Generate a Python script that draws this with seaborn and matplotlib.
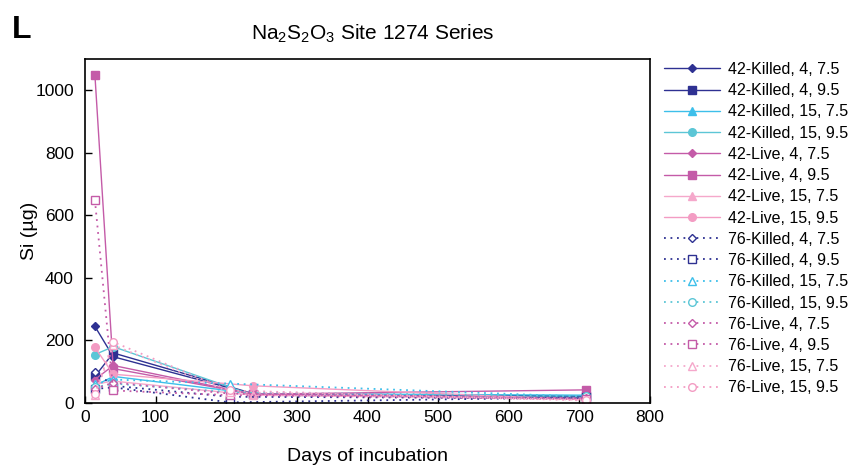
import matplotlib
matplotlib.use("Agg")
import matplotlib.pyplot as plt
import seaborn as sns
import pandas as pd
import numpy as np

sns.set_theme(style="white")
plt.rcParams['font.family'] = ['Liberation Sans', 'DejaVu Sans']
plt.rcParams['mathtext.fontset'] = 'custom'
plt.rcParams['mathtext.rm'] = 'Liberation Sans'
plt.rcParams['mathtext.it'] = 'Liberation Sans:italic'
plt.rcParams['mathtext.bf'] = 'Liberation Sans:bold'
plt.rcParams['text.color'] = 'black'
plt.rcParams['axes.labelcolor'] = 'black'
plt.rcParams['xtick.color'] = 'black'
plt.rcParams['ytick.color'] = 'black'

# ---- data ----
days_42 = [14, 40, 238, 710]
days_76 = [14, 40, 205, 710]

series_names = [
    "42-Killed, 4, 7.5", "42-Killed, 4, 9.5", "42-Killed, 15, 7.5", "42-Killed, 15, 9.5",
    "42-Live, 4, 7.5", "42-Live, 4, 9.5", "42-Live, 15, 7.5", "42-Live, 15, 9.5",
    "76-Killed, 4, 7.5", "76-Killed, 4, 9.5", "76-Killed, 15, 7.5", "76-Killed, 15, 9.5",
    "76-Live, 4, 7.5", "76-Live, 4, 9.5", "76-Live, 15, 7.5", "76-Live, 15, 9.5",
]
si_42_killed_4_75 = [245, 148, 28, 20]
si_42_killed_4_95 = [85, 160, 30, 22]
si_42_killed_15_75 = [55, 85, 30, 25]
si_42_killed_15_95 = [155, 180, 25, 18]
si_42_live_4_75 = [75, 120, 28, 15]
si_42_live_4_95 = [1050, 110, 28, 42]
si_42_live_15_75 = [60, 70, 25, 12]
si_42_live_15_95 = [178, 92, 55, 10]
si_76_killed_4_75 = [100, 55, 20, 15]
si_76_killed_4_95 = [45, 50, 2, 18]
si_76_killed_15_75 = [60, 75, 62, 20]
si_76_killed_15_95 = [50, 62, 35, 22]
si_76_live_4_75 = [45, 65, 30, 15]
si_76_live_4_95 = [650, 40, 25, 12]
si_76_live_15_75 = [25, 185, 35, 10]
si_76_live_15_95 = [30, 195, 40, 8]

values = [
    si_42_killed_4_75, si_42_killed_4_95, si_42_killed_15_75, si_42_killed_15_95,
    si_42_live_4_75, si_42_live_4_95, si_42_live_15_75, si_42_live_15_95,
    si_76_killed_4_75, si_76_killed_4_95, si_76_killed_15_75, si_76_killed_15_95,
    si_76_live_4_75, si_76_live_4_95, si_76_live_15_75, si_76_live_15_95,
]

colors4 = ["#2E3192", "#2E3192", "#3DBFEA", "#5CC6D6",
           "#C45BA8", "#C45BA8", "#F5A8CB", "#F39CC3"]
markers4 = ["D", "s", "^", "o", "D", "s", "^", "o"]

fig = plt.figure(figsize=(8.59, 4.66), dpi=100)
ax = fig.add_axes([85/859, 1-403/466, (650-85)/859, (403-59)/466])

for i, (name, vals) in enumerate(zip(series_names, values)):
    j = i % 8
    is76 = i >= 8
    days = days_76 if is76 else days_42
    df = pd.DataFrame({"day": days, "si": vals})
    c = colors4[j]
    ms = 5.5 if markers4[j] != "D" else 4.5
    sns.lineplot(data=df, x="day", y="si", ax=ax, color=c,
                 linestyle=(0, (1.0, 2.6)) if is76 else "-",
                 linewidth=1.0 if not is76 else 1.3,
                 marker=markers4[j], markersize=ms,
                 markerfacecolor="white" if is76 else c,
                 markeredgecolor=c, markeredgewidth=1.0,
                 label=name, legend=False, errorbar=None)

ax.set_xlim(0, 800)
ax.set_ylim(0, 1100)
ax.set_xticks(np.arange(0, 801, 100))
ax.set_yticks(np.arange(0, 1001, 200))
ax.tick_params(direction="in", length=5, width=1, labelsize=12.5, colors="black",
               bottom=True, left=True)
ax.tick_params(axis="y", pad=8)
ax.tick_params(axis="x", pad=5)
for s in ax.spines.values():
    s.set_color("black")
    s.set_linewidth(1.2)
ax.set_xlabel("Days of incubation", fontsize=14, labelpad=16.5)
ax.set_ylabel("Si (\u00b5g)", fontsize=14, labelpad=-2)

fig.text(373/859, 1-34/466, r"Na$_2$S$_2$O$_3$ Site 1274 Series", fontsize=15,
         ha="center", va="center")
fig.text(12/859, 1-30/466, "L", fontsize=23, fontweight="bold", ha="left", va="center")

handles, labels = ax.get_legend_handles_labels()
fig.legend(handles, labels, loc="upper left", bbox_to_anchor=(664/859, 1-62/466),
           frameon=False, fontsize=11.5, handlelength=3.5, handletextpad=0.5,
           labelspacing=0.39, borderaxespad=0, borderpad=0, labelcolor="black")

fig.savefig("out.png", dpi=100)
